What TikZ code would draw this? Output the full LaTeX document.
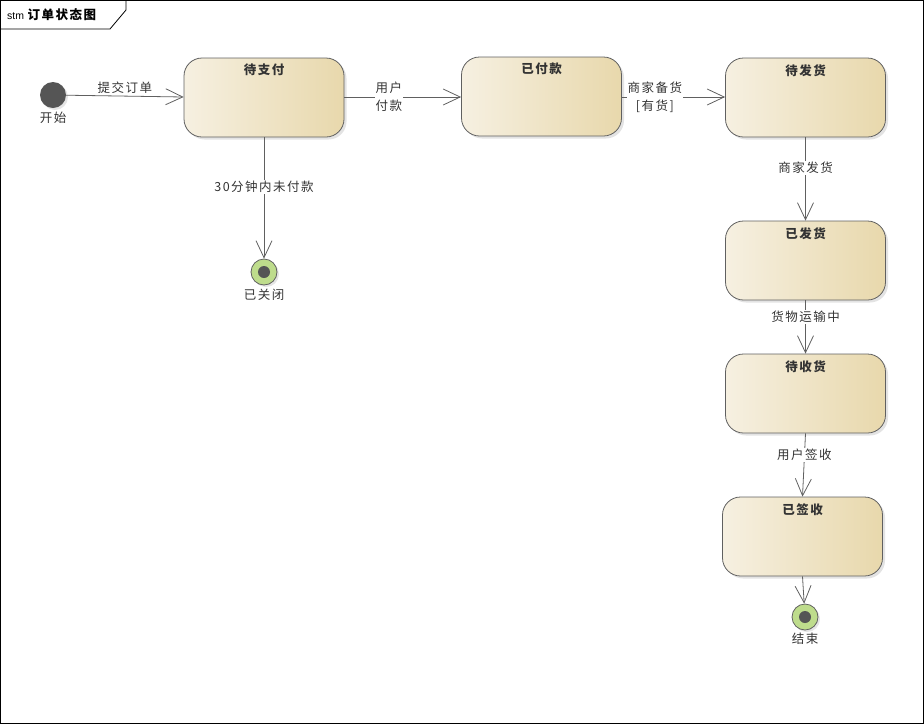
\documentclass[tikz,border=0pt]{standalone}
\usepackage{fontspec}
\setmainfont[LetterSpace=12]{Noto Sans CJK SC}
\newfontfamily\latinfont{Liberation Sans}
\usepackage{xcolor}
\usepackage{tikz}
\usetikzlibrary{positioning,arrows.meta,shadows}
\definecolor{edgegray}{RGB}{96,96,96}
\definecolor{txtgray}{RGB}{51,51,51}
\definecolor{creamL}{RGB}{246,240,225}
\definecolor{creamR}{RGB}{232,216,172}
\definecolor{dotgray}{RGB}{85,85,85}
\definecolor{finalgreen}{RGB}{190,220,140}
\tikzset{
  stbox/.style ={draw=edgegray, left color=creamL, right color=creamR, rounded corners=18pt,
                 minimum width=160pt, minimum height=79pt, line width=0.8pt,
                 drop shadow={shadow xshift=2.5pt, shadow yshift=-2.5pt, fill=black!22}},
  sttl/.style  ={font=\fontsize{12.5}{14}\selectfont\bfseries, text=txtgray, anchor=north, inner sep=0pt},
  initst/.style={circle, fill=dotgray, minimum size=26pt, inner sep=0pt,
                 drop shadow={shadow xshift=2pt, shadow yshift=-2pt, fill=black!20}},
  finst/.style ={circle, draw=edgegray, fill=finalgreen, minimum size=26pt, inner sep=0pt, line width=0.8pt,
                 path picture={\fill[dotgray] (path picture bounding box.center) circle (6pt);},
                 drop shadow={shadow xshift=2pt, shadow yshift=-2pt, fill=black!20}},
  lbl/.style   ={font=\fontsize{12.5}{18}\selectfont, text=txtgray, align=center, inner sep=1pt},
  tr/.style    ={draw=edgegray, line width=0.8pt, -{Straight Barb[length=17pt,width=16pt,line width=0.8pt]}},
}
\begin{document}
\begin{tikzpicture}[x=1pt,y=-1pt]
\useasboundingbox (0,0) rectangle (924,724);
% frame
\draw[black, line width=0.8pt] (0.5,0.5) rectangle (923.5,723.5);
\draw[black, line width=0.8pt] (0.5,29) -- (110,29) -- (126,10) -- (126,0.5);
\node[anchor=west, inner sep=0pt, text=black] (frm) at (7,15)
  {{\latinfont\fontsize{10.5}{11}\selectfont stm} {\fontsize{12.5}{13}\selectfont\bfseries 订单状态图}};

% states
\node[initst] (start) at (53,95) {};
\node[lbl, below=2.5pt of start] (startl) {开始};

\node[stbox] (pay)  at (264,97.5) {};
\node[stbox] (paid) at (541.5,96.5) {};
\node[stbox] (ship) at (805.5,97.5) {};
\node[stbox] (sent) at (805.5,260.5) {};
\node[stbox] (recv) at (805.5,393.5) {};
\node[stbox] (sign) at (802.5,536.5) {};
\foreach \s/\t in {pay/待支付, paid/已付款, ship/待发货, sent/已发货, recv/待收货, sign/已签收}
  \node[sttl] (\s t) at ([yshift=-6.5pt]\s.north) {\t};

\node[finst] (closed) at (264,272) {};
\node[lbl, below=2.5pt of closed] (closedl) {已关闭};
\node[finst] (done) at (805,617) {};
\node[lbl, below=1.5pt of done] (donel) {结束};

% transitions
\draw[tr] (start) -- (pay.west |- 0,97) node[lbl, midway, above=1pt] {提交订单};
\draw[tr] (pay.east |- 0,97) -- (paid.west |- 0,97) node[lbl, pos=0.38, fill=white] {用户\\付款};
\draw[tr] (paid.east |- 0,97) -- (ship.west |- 0,97) node[lbl, pos=0.32, fill=white] {商家备货\\{}[有货]};
\draw[tr] (pay.south) -- (closed) node[lbl, pos=0.41, fill=white] {30分钟内未付款};
\draw[tr] (ship.south) -- (sent.north) node[lbl, pos=0.37, fill=white] {商家发货};
\draw[tr] (sent.south) -- (recv.north) node[lbl, pos=0.31, fill=white] {货物运输中};
\draw[tr] (recv.south) -- (sign.north) node[lbl, pos=0.34, fill=white] {用户签收};
\draw[tr] (sign.south) -- (done);
\end{tikzpicture}
\end{document}
